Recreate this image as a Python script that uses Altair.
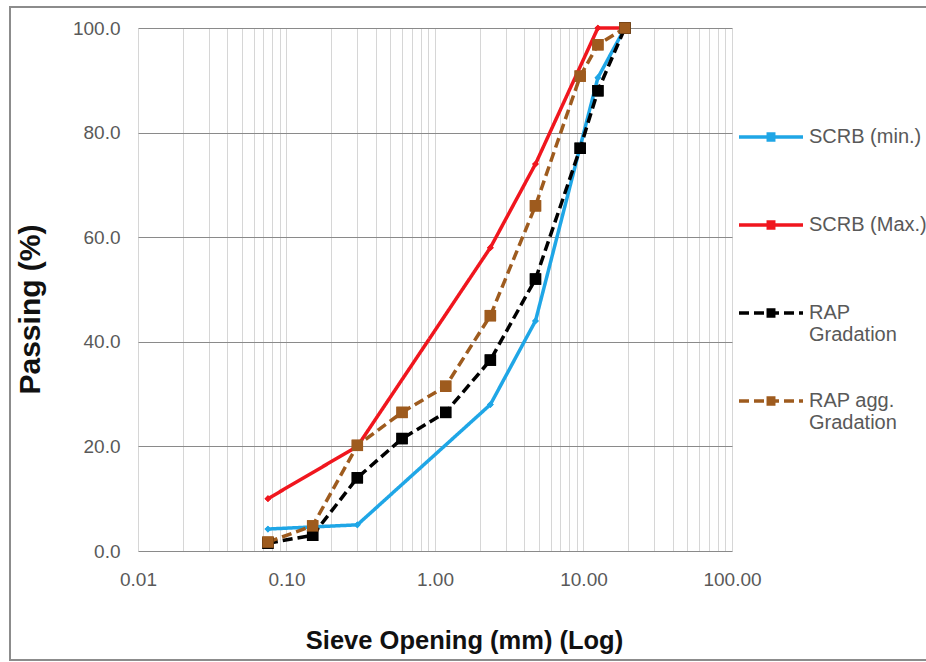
import altair as alt
import pandas as pd

# ---- data ----
series_names = ["SCRB (min.)", "SCRB (Max.)", "RAP Gradation", "RAP agg. Gradation"]
series_colors = ["#1FA6E6", "#F0161E", "#000000", "#9E5B1E"]

scrb_sizes = [0.075, 0.3, 2.36, 4.75, 12.5, 19]
scrb_min = [4.2, 5.0, 28.0, 44.0, 90.5, 100.0]
scrb_max = [10.0, 20.0, 58.0, 74.0, 100.0, 100.0]

rap_sizes = [0.075, 0.15, 0.3, 0.6, 1.18, 2.36, 4.75, 9.5, 12.5, 19]
rap_grad = [1.5, 3.0, 14.0, 21.5, 26.5, 36.5, 52.0, 77.0, 88.0, 100.0]
rap_agg = [1.7, 4.8, 20.2, 26.5, 31.5, 45.0, 66.0, 90.8, 96.8, 100.0]

x_grid_ticks = [0.01, 0.02, 0.03, 0.04, 0.05, 0.06, 0.07, 0.08, 0.09,
                0.1, 0.2, 0.3, 0.4, 0.5, 0.6, 0.7, 0.8, 0.9,
                1, 2, 3, 4, 5, 6, 7, 8, 9,
                10, 20, 30, 40, 50, 60, 70, 80, 90, 100]
y_ticks = [0, 20, 40, 60, 80, 100]

rows = []
for s, v in zip(scrb_sizes, scrb_min):
    rows.append({"series": series_names[0], "size": s, "pass": v, "order": 0})
for s, v in zip(scrb_sizes, scrb_max):
    rows.append({"series": series_names[1], "size": s, "pass": v, "order": 1})
for s, v in zip(rap_sizes, rap_grad):
    rows.append({"series": series_names[2], "size": s, "pass": v, "order": 2})
for s, v in zip(rap_sizes, rap_agg):
    rows.append({"series": series_names[3], "size": s, "pass": v, "order": 3})
df = pd.DataFrame(rows)

FONT = "Liberation Sans"
LABEL_COLOR = "#595959"

# legend symbol: line with a small filled block in the middle
legend_path = ("M-1,0H1"
               "M-0.14,-0.09H0.14M-0.14,0H0.14M-0.14,0.09H0.14")

legend = alt.Legend(
    title=None, orient="none", legendX=599, legendY=75, padding=0,
    symbolType=legend_path, symbolSize=4096, symbolStrokeWidth=3.5,
    rowPadding=22, labelOffset=4, labelFont=FONT, labelFontSize=20,
    labelColor=LABEL_COLOR, labelLimit=400,
    labelExpr=("datum.label == 'RAP Gradation' ? ['RAP', 'Gradation'] : "
               "datum.label == 'RAP agg. Gradation' ? ['RAP agg.', 'Gradation'] : [datum.label, ' ']"),
)

color_enc = alt.Color("series:N",
                      scale=alt.Scale(domain=series_names, range=series_colors),
                      sort=series_names, legend=legend)
dash_enc = alt.StrokeDash("series:N",
                          scale=alt.Scale(domain=series_names,
                                          range=[[1, 0], [1, 0], [10, 5], [10, 5]]),
                          sort=series_names, legend=legend)

x_enc = alt.X("size:Q",
              scale=alt.Scale(type="log", domain=[0.01, 100], nice=False),
              axis=alt.Axis(values=x_grid_ticks,
                            labelExpr=("abs(log(datum.value)/LN10 - round(log(datum.value)/LN10)) < 0.001"
                                       " ? format(datum.value, '.2f') : ''"),
                            labelOverlap=False, labelFlush=False, ticks=False, domain=False,
                            grid=True, gridColor="#D6D6D6", gridWidth=1,
                            labelFont=FONT, labelFontSize=19, labelColor=LABEL_COLOR,
                            labelPadding=19,
                            title="Sieve Opening (mm) (Log)", titleFont=FONT,
                            titleFontSize=25.5, titleFontWeight="bold", titleColor="#111111",
                            titleX=326, titleY=77, titleAnchor="middle"))
y_enc = alt.Y("pass:Q",
              scale=alt.Scale(domain=[0, 100], nice=False),
              axis=alt.Axis(values=y_ticks, format=".1f", ticks=False, domain=False,
                            grid=True, gridColor="#8A8A8A", gridWidth=1,
                            labelFont=FONT, labelFontSize=19, labelColor=LABEL_COLOR,
                            labelPadding=18,
                            title="Passing (%)", titleFont=FONT, titleFontSize=30,
                            titleFontWeight="bold", titleColor="#111111",
                            titleX=-93, titleY=281, titleAngle=270))

lines = alt.Chart(df).mark_line(strokeWidth=3.5).encode(
    x=x_enc, y=y_enc, color=color_enc, strokeDash=dash_enc,
    detail="series:N", order="order:Q",
)
squares = alt.Chart(df).transform_filter(
    alt.FieldOneOfPredicate(field="series", oneOf=series_names[2:])
).mark_point(shape="square", filled=True, size=130, opacity=1).encode(
    x="size:Q", y="pass:Q", color=color_enc,
)
diamonds = alt.Chart(df).transform_filter(
    alt.FieldOneOfPredicate(field="series", oneOf=series_names[:2])
).mark_point(shape="diamond", filled=True, size=45, opacity=1).encode(
    x="size:Q", y="pass:Q", color=color_enc,
)

frame = alt.Chart(alt.Data(values=[{}])).mark_rect(
    fill=None, stroke="#8C8C8C", strokeWidth=2
).encode(x=alt.value(-128), x2=alt.value(800), y=alt.value(-21), y2=alt.value(632))

chart = alt.layer(frame, diamonds, squares, lines, diamonds, squares).properties(
    width=594, height=523,
    autosize=alt.AutoSizeParams(type="none"),
    padding={"left": 138, "top": 28, "right": 194, "bottom": 111},
    background="white",
).configure_view(stroke=None)

chart.save("out.html", embed_options={"renderer": "svg", "actions": False})
